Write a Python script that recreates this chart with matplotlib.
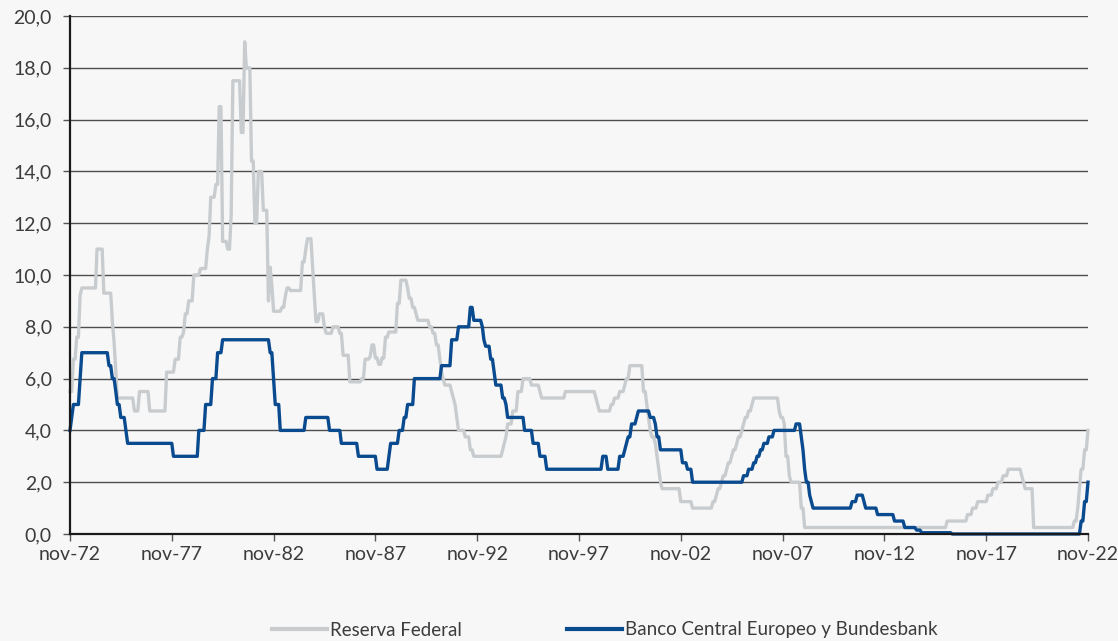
import matplotlib
matplotlib.use("Agg")
import matplotlib.pyplot as plt
from matplotlib import font_manager as fm
from matplotlib.lines import Line2D
import pandas as pd

# ---------------- data (change points, monthly) ----------------
fed_dates = [
    "1972-11", "1973-01", "1973-03", "1973-05", "1973-06", "1974-03", "1974-07", "1974-12",
    "1975-01", "1975-02", "1975-03", "1976-01", "1976-04", "1976-10", "1977-08", "1978-01",
    "1978-04", "1978-06", "1978-07", "1978-09", "1978-12", "1979-04", "1979-08", "1979-09",
    "1979-10", "1980-01", "1980-03", "1980-05", "1980-08", "1980-10", "1980-11", "1981-04",
    "1981-06", "1981-07", "1981-10", "1981-12", "1982-02", "1982-05", "1982-08", "1982-09",
    "1982-10", "1982-11", "1983-04", "1983-06", "1983-07", "1983-09", "1984-04", "1984-06",
    "1984-07", "1984-10", "1984-11", "1984-12", "1985-02", "1985-05", "1985-06", "1985-10",
    "1986-02", "1986-04", "1986-08", "1987-03", "1987-05", "1987-08", "1987-09", "1987-11",
    "1988-01", "1988-03", "1988-05", "1988-07", "1988-12", "1989-02", "1989-06", "1989-07",
    "1989-09", "1989-11", "1989-12", "1990-07", "1990-09", "1990-11", "1991-01", "1991-02",
    "1991-03", "1991-04", "1991-08", "1991-09", "1991-10", "1991-11", "1991-12", "1992-04",
    "1992-07", "1992-09", "1994-02", "1994-03", "1994-04", "1994-05", "1994-08", "1994-11",
    "1995-02", "1995-07", "1995-12", "1996-01", "1997-03", "1998-09", "1998-10", "1998-11",
    "1999-06", "1999-08", "1999-11", "2000-02", "2000-03", "2000-05", "2001-01", "2001-03",
    "2001-04", "2001-05", "2001-06", "2001-08", "2001-09", "2001-10", "2001-11", "2001-12",
    "2002-11", "2003-06", "2004-06", "2004-08", "2004-09", "2004-11", "2004-12", "2005-02",
    "2005-03", "2005-05", "2005-06", "2005-08", "2005-09", "2005-11", "2005-12", "2006-01",
    "2006-03", "2006-05", "2006-06", "2007-09", "2007-10", "2007-12", "2008-01", "2008-03",
    "2008-04", "2008-10", "2008-12", "2015-12", "2016-12", "2017-03", "2017-06", "2017-12",
    "2018-03", "2018-06", "2018-09", "2018-12", "2019-08", "2019-09", "2019-10", "2020-03",
    "2022-03", "2022-05", "2022-06", "2022-07", "2022-09", "2022-11",
]
fed_values = [
    5.5, 6.75, 7.6, 9.2, 9.5, 11.0, 9.3, 8.2,
    7.4, 6.3, 5.25, 4.75, 5.5, 4.75, 6.25, 6.75,
    7.6, 7.8, 8.5, 9.0, 10.0, 10.25, 11.0, 11.5,
    13.0, 13.5, 16.5, 11.3, 11.0, 12.3, 17.5, 15.5,
    19.0, 18.0, 14.4, 12.0, 14.0, 12.5, 9.0, 10.3,
    9.6, 8.6, 8.75, 9.2, 9.5, 9.4, 10.5, 11.0,
    11.4, 10.3, 9.2, 8.2, 8.5, 8.0, 7.75, 8.0,
    7.75, 6.9, 5.875, 6.0, 6.75, 6.85, 7.3, 6.8,
    6.55, 6.8, 7.6, 7.8, 8.9, 9.8, 9.5, 9.1,
    8.75, 8.5, 8.25, 8.0, 7.75, 7.3, 6.75, 6.25,
    6.0, 5.75, 5.5, 5.25, 5.0, 4.5, 4.0, 3.75,
    3.25, 3.0, 3.25, 3.5, 3.75, 4.25, 4.75, 5.5,
    6.0, 5.75, 5.5, 5.25, 5.5, 5.25, 5.0, 4.75,
    5.0, 5.25, 5.5, 5.75, 6.0, 6.5, 5.5, 5.0,
    4.5, 4.0, 3.75, 3.5, 3.0, 2.5, 2.0, 1.75,
    1.25, 1.0, 1.25, 1.5, 1.75, 2.0, 2.25, 2.5,
    2.75, 3.0, 3.25, 3.5, 3.75, 4.0, 4.25, 4.5,
    4.75, 5.0, 5.25, 4.75, 4.5, 4.25, 3.0, 2.25,
    2.0, 1.0, 0.25, 0.5, 0.75, 1.0, 1.25, 1.5,
    1.75, 2.0, 2.25, 2.5, 2.25, 2.0, 1.75, 0.25,
    0.5, 1.0, 1.75, 2.5, 3.25, 4.0,
]

ecb_dates = [
    "1972-11", "1972-12", "1973-01", "1973-05", "1973-06", "1974-10", "1974-12", "1975-02",
    "1975-03", "1975-05", "1975-08", "1975-09", "1977-12", "1979-03", "1979-07", "1979-11",
    "1980-02", "1980-05", "1982-09", "1982-11", "1982-12", "1983-03", "1984-06", "1985-08",
    "1986-03", "1987-01", "1987-12", "1988-07", "1988-08", "1989-01", "1989-04", "1989-06",
    "1989-10", "1991-02", "1991-08", "1991-12", "1992-07", "1992-09", "1993-02", "1993-03",
    "1993-04", "1993-07", "1993-09", "1993-10", "1994-02", "1994-04", "1994-05", "1995-03",
    "1995-08", "1995-12", "1996-04", "1999-01", "1999-04", "1999-11", "2000-02", "2000-03",
    "2000-04", "2000-06", "2000-09", "2000-10", "2001-05", "2001-08", "2001-09", "2001-11",
    "2002-12", "2003-03", "2003-06", "2005-12", "2006-03", "2006-06", "2006-08", "2006-10",
    "2006-12", "2007-03", "2007-06", "2008-07", "2008-10", "2008-11", "2008-12", "2009-01",
    "2009-03", "2009-04", "2009-05", "2011-04", "2011-07", "2011-11", "2011-12", "2012-07",
    "2013-05", "2013-11", "2014-06", "2014-09", "2016-03", "2022-07", "2022-09", "2022-11",
]
ecb_values = [
    4.0, 4.5, 5.0, 6.0, 7.0, 6.5, 6.0, 5.5,
    5.0, 4.5, 4.0, 3.5, 3.0, 4.0, 5.0, 6.0,
    7.0, 7.5, 7.0, 6.0, 5.0, 4.0, 4.5, 4.0,
    3.5, 3.0, 2.5, 3.0, 3.5, 4.0, 4.5, 5.0,
    6.0, 6.5, 7.5, 8.0, 8.75, 8.25, 8.0, 7.5,
    7.25, 6.75, 6.25, 5.75, 5.25, 5.0, 4.5, 4.0,
    3.5, 3.0, 2.5, 3.0, 2.5, 3.0, 3.25, 3.5,
    3.75, 4.25, 4.5, 4.75, 4.5, 4.25, 3.75, 3.25,
    2.75, 2.5, 2.0, 2.25, 2.5, 2.75, 3.0, 3.25,
    3.5, 3.75, 4.0, 4.25, 3.75, 3.25, 2.5, 2.0,
    1.5, 1.25, 1.0, 1.25, 1.5, 1.25, 1.0, 0.75,
    0.5, 0.25, 0.15, 0.05, 0.0, 0.5, 1.25, 2.0,
]

series_names = ["Reserva Federal", "Banco Central Europeo y Bundesbank"]
x_tick_labels = ["nov-72", "nov-77", "nov-82", "nov-87", "nov-92",
                 "nov-97", "nov-02", "nov-07", "nov-12", "nov-17", "nov-22"]
x_tick_dates = ["1972-11", "1977-11", "1982-11", "1987-11", "1992-11",
                "1997-11", "2002-11", "2007-11", "2012-11", "2017-11", "2022-11"]
y_ticks = [0, 2, 4, 6, 8, 10, 12, 14, 16, 18, 20]


def monthly_path(dates, values):
    """Each rate holds until the month before the next change (monthly data)."""
    ts = pd.to_datetime(dates, format="%Y-%m")
    xs, ys = [ts[0]], [values[0]]
    for i in range(1, len(ts)):
        prev_month = ts[i] - pd.DateOffset(months=1)
        if prev_month > xs[-1]:
            xs.append(prev_month)
            ys.append(values[i - 1])
        xs.append(ts[i])
        ys.append(values[i])
    return xs, ys


# ---------------- fonts ----------------
available = {f.name for f in fm.fontManager.ttflist}
tick_font = "Lato" if "Lato" in available else "DejaVu Sans"
legend_font = ("Liberation Sans Narrow" if "Liberation Sans Narrow" in available
               else tick_font)
legend_size = 15 if legend_font == "Liberation Sans Narrow" else 13.5

BG = "#f7f7f7"
GREY = "#c9cccf"
BLUE = "#0a4a8f"
TXT = "#3c3c3c"

fig = plt.figure(figsize=(11.18, 6.41), dpi=100, facecolor=BG)
ax = fig.add_axes([70 / 1118, 1 - 534 / 641, (1088 - 70) / 1118, (534 - 16) / 641])
ax.set_facecolor(BG)

fx, fy = monthly_path(fed_dates, fed_values)
ex, ey = monthly_path(ecb_dates, ecb_values)

ax.plot(fx, fy, color=GREY, lw=2.4, solid_joinstyle="round", zorder=3,
        clip_on=False, label=series_names[0])
ax.plot(ex, ey, color=BLUE, lw=2.4, solid_joinstyle="round", zorder=4,
        clip_on=False, label=series_names[1])

ax.set_ylim(0, 20)
ax.set_xlim(pd.Timestamp(x_tick_dates[0]), pd.Timestamp(x_tick_dates[-1]))
ax.set_yticks(y_ticks)
ax.set_yticklabels([f"{v:.1f}".replace(".", ",") for v in y_ticks])
ax.set_xticks(pd.to_datetime(x_tick_dates, format="%Y-%m"))
ax.set_xticklabels(x_tick_labels)

ax.yaxis.grid(True, color="#4e4e4e", lw=1.0, zorder=1)
ax.xaxis.grid(False)
ax.set_axisbelow(True)

for s in ["top", "right"]:
    ax.spines[s].set_visible(False)
for s in ["left", "bottom"]:
    ax.spines[s].set_color("#1a1a1a")
    ax.spines[s].set_linewidth(1.6)
    ax.spines[s].set_zorder(5)

ax.tick_params(axis="y", direction="out", length=5, width=1, color="#555555",
               pad=8, labelsize=14, labelcolor=TXT)
ax.tick_params(axis="x", direction="out", length=5, width=1, color="#555555",
               pad=4, labelsize=14, labelcolor=TXT)
for lab in ax.get_xticklabels() + ax.get_yticklabels():
    lab.set_family(tick_font)

handles = [Line2D([], [], color=GREY, lw=3), Line2D([], [], color=BLUE, lw=3)]
leg = fig.legend(handles, series_names, ncol=2, loc="center",
                 bbox_to_anchor=(605 / 1118, 1 - 630 / 641), frameon=False,
                 handlelength=2.9, handletextpad=0.2, columnspacing=5.6,
                 prop={"family": legend_font, "size": legend_size})
for t in leg.get_texts():
    t.set_color(TXT)

fig.savefig("out.png", dpi=100, facecolor=BG)
